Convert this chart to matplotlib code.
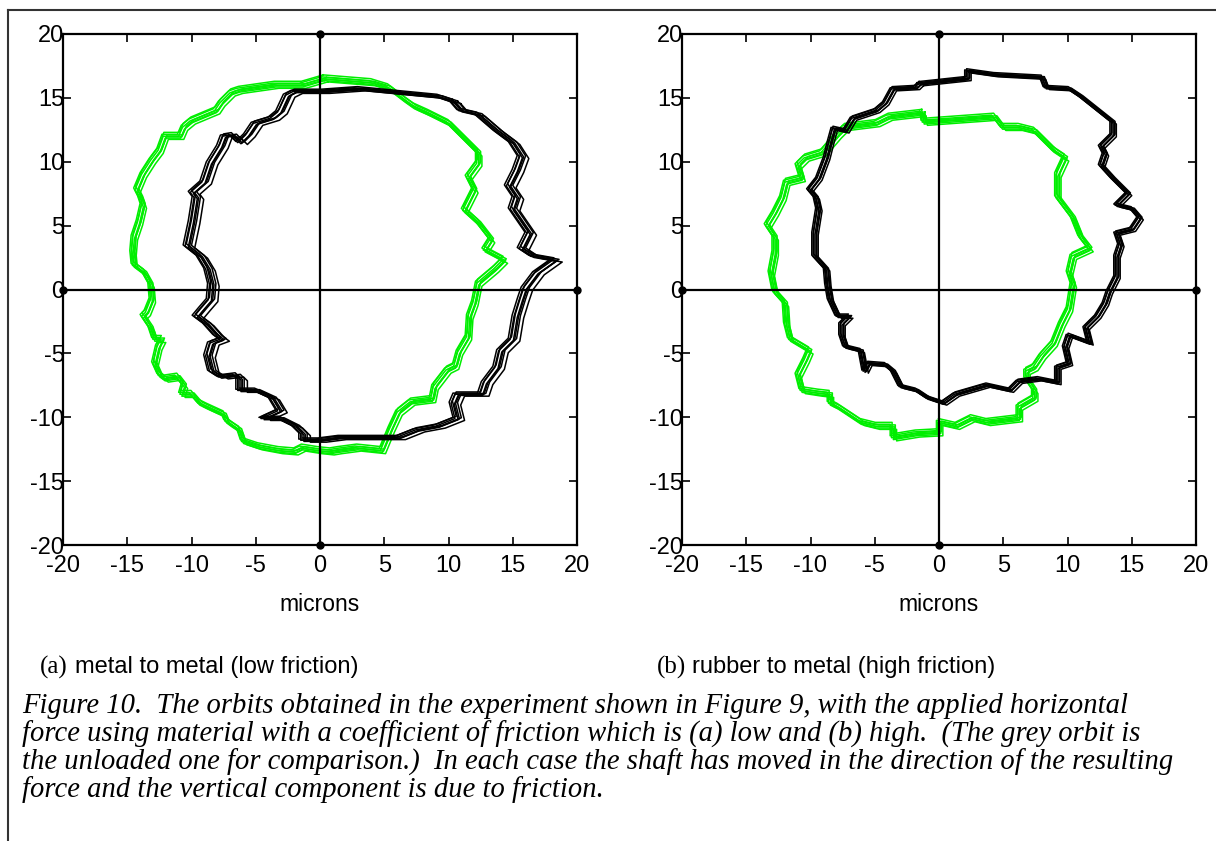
import matplotlib
matplotlib.use("Agg")
import matplotlib.pyplot as plt
from matplotlib.lines import Line2D

# (a) metal to metal - unloaded orbit (green), microns
ga_x = [0.2, -1.5, -3.6, -6.4, -7.0, -7.8, -8.2, -10.1, -10.7, -11.0, -12.2, -12.6, -13.2, -13.9,
        -14.4, -14.1, -13.9, -14.2, -14.6, -14.7, -14.6, -13.8, -13.3, -13.2, -13.6, -13.9, -13.3,
        -13.0, -12.4, -12.7, -13.0, -12.6, -12.2, -11.2, -10.7, -10.9, -10.1, -9.5, -8.9, -7.6,
        -7.4, -7.0, -6.4, -6.1, -4.9, -3.3, -2.1, -1.5, -0.25, 0.7, 1.3, 2.8, 4.7, 5.4, 6.0, 7.0,
        8.6, 8.8, 9.8, 10.4, 10.7, 11.4, 11.5, 11.9, 12.1, 12.2, 13.5, 14.2, 12.7, 13.2, 12.2,
        11.1, 11.9, 11.4, 12.2, 12.2, 10.9, 9.9, 8.3, 7.2, 6.5, 5.2, 3.9, 0.2]
ga_y = [16.5, 16.0, 16.0, 15.6, 15.4, 14.6, 14.0, 13.2, 12.7, 12.0, 12.0, 10.9, 10.1, 9.0,
        7.8, 7.2, 6.6, 5.3, 4.1, 2.9, 1.9, 1.3, 0.4, -0.8, -1.8, -2.1, -3.0,
        -3.9, -3.9, -4.5, -5.8, -6.7, -7.0, -6.85, -7.5, -8.2, -8.2, -8.9, -9.2, -9.8,
        -10.3, -10.6, -11.0, -11.9, -12.3, -12.6, -12.7, -12.4, -12.6, -12.7, -12.6, -12.4, -12.6,
        -10.9, -9.6, -8.8, -8.6, -7.6, -6.3, -6.0, -4.9, -3.7, -2.1, -1.0, 0.0, 0.5, 1.6, 2.3,
        3.1, 3.9, 5.2, 6.2, 7.8, 8.8, 9.9, 10.7, 12.0, 13.0, 13.8, 14.3, 14.8, 15.8, 16.2, 16.5]

# (a) loaded orbit (black)
ka_x = [10.2, 10.8, 12.1, 13.6, 14.8, 15.5, 15.1, 14.5, 15.1, 14.8, 16.1, 15.5, 16.4, 18.1,
        16.7, 15.8, 15.5, 15.1, 14.8, 13.9, 13.6, 12.7, 12.4, 10.5, 10.2, 10.5, 9.0, 7.4, 5.9,
        2.8, 1.3, -0.25, -1.5, -1.5, -2.1, -3.3, -4.6, -3.3, -3.9, -5.2, -6.4, -6.4, -6.7, -7.9,
        -8.6, -8.9, -8.6, -7.8, -8.2, -9.0, -9.8, -9.3, -8.7, -8.6, -8.9, -9.5, -10.5, -10.1,
        -9.8, -10.1, -9.2, -8.7, -7.9, -7.6, -7.0, -6.4, -5.8, -5.2, -3.9, -3.3, -2.7, -2.1,
        0.0, 2.8, 5.9, 9.0, 10.2]
ka_y = [14.7, 14.0, 13.7, 12.4, 11.5, 10.4, 9.3, 8.1, 7.2, 6.3, 4.4, 3.2, 2.6, 2.3,
        1.3, 0.1, -0.8, -2.1, -3.9, -4.8, -6.1, -7.3, -8.2, -8.2, -8.9, -10.1, -10.7, -11.0, -11.6,
        -11.6, -11.6, -11.8, -11.8, -11.3, -10.7, -10.1, -10.1, -9.5, -8.5, -7.9, -7.9, -7.0, -6.7,
        -6.85, -6.4, -5.2, -4.2, -3.9, -3.6, -2.7, -2.1, -1.5, -0.8, 0.4, 1.6, 2.6, 3.4, 5.3,
        7.2, 7.6, 8.4, 9.9, 11.2, 12.0, 12.1, 11.5, 12.1, 13.0, 13.4, 13.9, 15.2, 15.5,
        15.5, 15.7, 15.4, 15.1, 14.7]

# (b) rubber to metal - unloaded orbit (green)
gb_x = [-1.4, -1.3, 4.2, 4.8, 6.1, 7.3, 8.8, 9.7, 9.1, 9.1, 10.3, 10.9, 11.6, 10.3, 10.0,
        10.3, 10.0, 9.4, 8.8, 7.9, 7.3, 6.7, 6.7, 7.3, 7.3, 6.1, 6.1, 3.6, 2.4, 1.2, -0.1,
        -0.1, -1.9, -3.7, -3.7, -5.0, -6.2, -8.0, -8.6, -8.6, -9.5, -10.8, -11.1, -10.5, -10.2,
        -11.7, -12.0, -12.1, -12.9, -13.2, -12.9, -12.9, -13.5, -12.9, -12.3, -12.0, -10.8,
        -11.1, -10.5, -9.2, -8.0, -7.4, -5.0, -4.0, -1.4]
gb_y = [13.8, 13.1, 13.5, 12.7, 12.7, 12.4, 10.9, 10.3, 9.0, 7.2, 5.6, 4.1, 3.2, 2.6, 1.3,
        0.4, -1.5, -2.7, -4.2, -5.2, -6.1, -6.4, -7.0, -7.9, -8.5, -9.2, -10.1, -10.4, -10.1,
        -10.7, -10.4, -11.2, -11.3, -11.6, -10.7, -10.7, -10.4, -9.2, -8.9, -8.2, -8.1, -7.9,
        -6.7, -5.5, -4.8, -3.9, -2.7, -1.1, -0.2, 1.3, 2.9, 4.1, 5.0, 6.0, 7.2, 8.4, 8.7,
        9.7, 10.3, 10.7, 12.1, 12.7, 13.0, 13.5, 13.8]

# (b) loaded orbit (black)
kb_x = [-1.6, 2.1, 2.1, 4.2, 7.9, 8.2, 10.0, 10.9, 11.9, 13.4, 13.4, 12.5, 12.8, 12.5, 13.4,
        14.6, 13.7, 14.9, 15.5, 14.9, 13.7, 14.0, 13.7, 13.7, 13.1, 12.8, 12.2, 11.3, 11.6,
        10.0, 9.7, 10.0, 9.1, 9.1, 7.6, 6.1, 5.4, 3.6, 1.2, 0.2, -1.0, -1.9, -3.1, -3.7, -4.3,
        -5.6, -5.9, -6.2, -7.4, -7.7, -7.7, -7.1, -8.0, -8.6, -8.8, -8.9, -9.8, -9.8, -9.5,
        -9.7, -10.2, -9.5, -8.9, -8.6, -8.3, -7.4, -6.8, -5.0, -4.3, -3.7, -1.9, -1.6]
kb_y = [16.1, 16.5, 17.1, 16.8, 16.6, 15.8, 15.7, 15.1, 14.3, 13.1, 12.1, 11.2, 10.6, 9.7, 8.7,
        7.5, 6.6, 6.3, 5.6, 4.7, 4.4, 3.5, 2.6, 1.0, -0.2, -1.1, -2.1, -3.0, -4.2,
        -3.6, -4.5, -5.8, -6.1, -7.3, -7.0, -7.2, -7.9, -7.5, -8.2, -8.9, -8.5, -7.9, -7.6, -6.4,
        -5.9, -5.8, -6.4, -4.8, -4.5, -3.6, -2.7, -2.1, -2.1, -0.8, 0.4, 1.6, 2.6, 4.4, 6.3,
        7.2, 7.8, 8.7, 10.3, 11.5, 12.6, 12.4, 13.4, 14.0, 14.6, 15.7, 15.8, 16.1]

# cycle-to-cycle shift of each repeated revolution (microns)
rep_dx = [0.0, 0.15, 0.3, -0.1, 0.4, 0.05, 0.25]
rep_dy = [0.0, -0.15, 0.1, 0.15, -0.25, 0.3, -0.05]
rep_dx_wide = [0.0, 0.25, 0.5, -0.15, 0.75, 0.1, 0.35]

ticks = [-20, -15, -10, -5, 0, 5, 10, 15, 20]
sub_captions = [("(a)", "metal to metal (low friction)"),
                ("(b)", "rubber to metal (high friction)")]
caption_lines = [
    "Figure 10.  The orbits obtained in the experiment shown in Figure 9, with the applied horizontal",
    "force using material with a coefficient of friction which is (a) low and (b) high.  (The grey orbit is",
    "the unloaded one for comparison.)  In each case the shaft has moved in the direction of the resulting",
    "force and the vertical component is due to friction.",
]

W, H = 1216, 841
fig = plt.figure(figsize=(W / 100, H / 100), dpi=100)
sans = "Liberation Sans"
serif = "Liberation Serif"


def fx(px):
    return px / W


def fy(py):
    return 1 - py / H


panels = [
    (63, ga_x, ga_y, ka_x, ka_y, rep_dx_wide),
    (682, gb_x, gb_y, kb_x, kb_y, rep_dx),
]

for left, gx, gy, kx, ky, kdx in panels:
    ax = fig.add_axes([fx(left), fy(545), 514 / W, 511 / H])
    for dx, dy in zip(rep_dx, rep_dy):
        ax.plot([v + dx for v in gx], [v + dy for v in gy], color="#00ee00", lw=1.1)
    for dx, dy in zip(kdx, rep_dy):
        ax.plot([v + dx for v in kx], [v + dy * 0.6 for v in ky], color="black", lw=1.1)
    ax.plot([-20, 20], [0, 0], color="black", lw=1.6, marker="o", ms=5, clip_on=False)
    ax.plot([0, 0], [-20, 20], color="black", lw=1.6, marker="o", ms=5, clip_on=False)
    ax.set_xlim(-20, 20)
    ax.set_ylim(-20, 20)
    ax.set_xticks(ticks)
    ax.set_yticks(ticks)
    ax.set_xticklabels([str(t) for t in ticks], fontfamily=sans, fontsize=17)
    ax.set_yticklabels([str(t) for t in ticks], fontfamily=sans, fontsize=17)
    ax.tick_params(direction="in", length=6, width=1.2, top=True, right=True)
    ax.tick_params(axis="x", pad=7)
    ax.tick_params(axis="y", pad=-1)
    for s in ax.spines.values():
        s.set_linewidth(1.6)
    ax.set_xlabel("microns", fontfamily=sans, fontsize=16.5, labelpad=12)

# sub captions
for (tag, txt), x0 in zip(sub_captions, [40, 657]):
    fig.text(fx(x0), fy(667), tag, fontfamily=serif, fontsize=18, va="center")
    fig.text(fx(x0 + 35), fy(667), txt, fontfamily=sans, fontsize=17, va="center")

# figure caption
for i, line in enumerate(caption_lines):
    fig.text(fx(22), fy(706 + 28 * i), line, fontfamily=serif, style="italic",
             fontsize=20.6, va="center")

# page frame
fig.add_artist(Line2D([fx(8), fx(8)], [fy(10), 0], color="#333333", lw=1.5))
fig.add_artist(Line2D([fx(8), 1], [fy(10), fy(10)], color="#333333", lw=1.5))

fig.savefig("out.png", dpi=100)
